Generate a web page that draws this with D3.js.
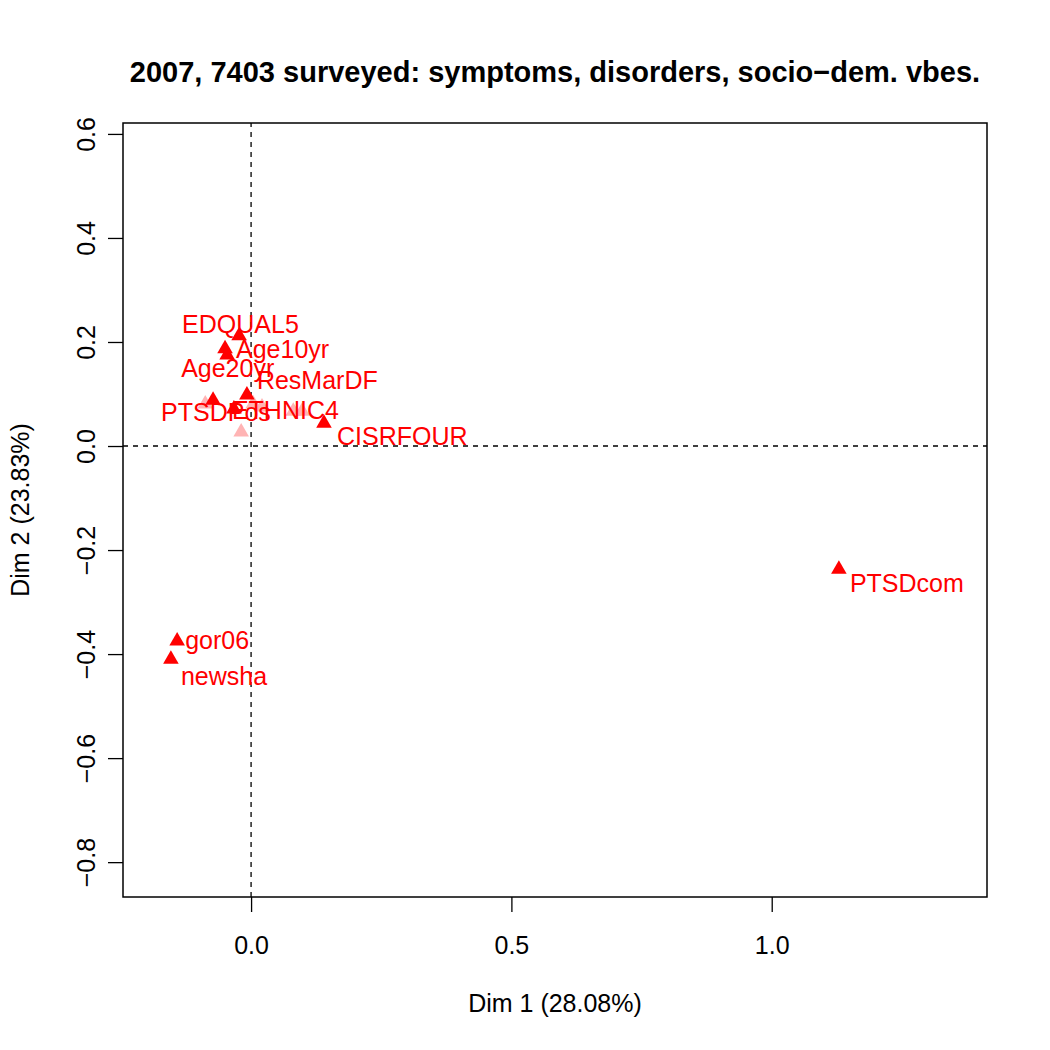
<!DOCTYPE html>
<html>
  <head>
    <meta charset="utf-8">
    <style>
      body { margin: 0; background: #ffffff; }
      text { font-family: "Liberation Sans", Arial, sans-serif; }
    </style>
  </head>
  <body>
    <svg id="chart"></svg>
  </body>
</html>

<script src="https://d3js.org/d3.v7.min.js"></script>

<script>
  const WIDTH = 1050
  const HEIGHT = 1050

  // active categories (red) and their coordinates on dim 1 / dim 2
  const labels = ['EDQUAL5', 'Age10yr', 'Age20yr', 'ResMarDF', 'PTSDPos',
                  'ETHNIC4', 'CISRFOUR', 'PTSDcom', 'gor06', 'newsha']
  const dim1 = [-0.023, -0.050, -0.046, -0.008, -0.073, -0.033, 0.140, 1.129, -0.142, -0.154]
  const dim2 = [0.212, 0.187, 0.175, 0.098, 0.088, 0.071, 0.044, -0.237, -0.375, -0.410]

  // label offsets in pixels (start of text, baseline)
  const labelDx = [-57, 11, -46, 10, -52, -2, 13, 11, 8, 10]
  const labelDy = [-3, 9, 22, -6, 21, 10, 22, 23, 8, 26]

  // pale (unlabelled) categories
  const paleDim1 = [-0.088, -0.019, 0.004, 0.021, 0.081, 0.098]
  const paleDim2 = [0.081, 0.027, 0.081, 0.075, 0.067, 0.067]

  const xTicks = [0.0, 0.5, 1.0]
  const yTicks = [-0.8, -0.6, -0.4, -0.2, 0.0, 0.2, 0.4, 0.6]

  const TITLE = '2007, 7403 surveyed: symptoms, disorders, socio\u2212dem. vbes.'
  const XLAB = 'Dim 1 (28.08%)'
  const YLAB = 'Dim 2 (23.83%)'

  const margin = {left: 123, right: 63, top: 123, bottom: 153}
  const FS = 25

  let svg = d3.select('#chart')
    .attr('width', WIDTH)
    .attr('height', HEIGHT)

  let x = d3.scaleLinear()
    .domain([-0.246, 1.4135])
    .range([margin.left, WIDTH - margin.right])
  let y = d3.scaleLinear()
    .domain([-0.867, 0.621])
    .range([HEIGHT - margin.bottom, margin.top])

  // R style tick labels: 0.0, -0.2 with a minus sign
  function fmt(v) {
    let s = Math.abs(v).toFixed(1)
    return v < -1e-9 ? '\u2212' + s : s
  }

  // axes
  let xAxis = d3.axisBottom(x).tickValues(xTicks).tickSize(15).tickPadding(24).tickFormat(fmt)
  let gx = svg.append('g')
    .attr('transform', 'translate(0,' + (HEIGHT - margin.bottom) + ')')
    .call(xAxis)
  gx.select('.domain').remove()
  gx.selectAll('line').attr('stroke', 'black').attr('stroke-width', 1.3)
  gx.selectAll('text').attr('font-size', FS).attr('fill', 'black')
    .attr('font-family', '"Liberation Sans", Arial, sans-serif')

  let yAxis = d3.axisLeft(y).tickValues(yTicks).tickSize(15).tickFormat(fmt)
  let gy = svg.append('g')
    .attr('transform', 'translate(' + margin.left + ',0)')
    .call(yAxis)
  gy.select('.domain').remove()
  gy.selectAll('line').attr('stroke', 'black').attr('stroke-width', 1.3)
  gy.selectAll('text')
    .attr('font-size', FS).attr('fill', 'black')
    .attr('font-family', '"Liberation Sans", Arial, sans-serif')
    .attr('x', null)
    .attr('text-anchor', 'middle')
    .attr('transform', 'translate(-37,0) rotate(-90)')
    .attr('y', 0)
    .attr('dy', '0.35em')

  // dashed reference lines
  svg.append('line')
    .attr('x1', x.range()[0]).attr('x2', x.range()[1])
    .attr('y1', y(0)).attr('y2', y(0))
    .attr('stroke', 'black').attr('stroke-width', 1.3)
    .attr('stroke-dasharray', '5,5')
  svg.append('line')
    .attr('x1', x(0)).attr('x2', x(0))
    .attr('y1', y.range()[0]).attr('y2', y.range()[1])
    .attr('stroke', 'black').attr('stroke-width', 1.3)
    .attr('stroke-dasharray', '5,5')

  // box
  svg.append('rect')
    .attr('x', x.range()[0]).attr('y', y.range()[1])
    .attr('width', x.range()[1] - x.range()[0])
    .attr('height', y.range()[0] - y.range()[1])
    .attr('fill', 'none').attr('stroke', 'black').attr('stroke-width', 1.5)

  let tri = d3.symbol().type(d3.symbolTriangle).size(105)

  // pale points
  svg.selectAll('.pale')
    .data(paleDim1.map((d, i) => [d, paleDim2[i]]))
    .enter()
    .append('path')
    .attr('class', 'pale')
    .attr('d', tri)
    .attr('transform', d => 'translate(' + x(d[0]) + ',' + y(d[1]) + ')')
    .attr('fill', '#ffb4b4')

  let pts = labels.map((l, i) => ({name: l, x: dim1[i], y: dim2[i], dx: labelDx[i], dy: labelDy[i]}))

  svg.selectAll('.pt')
    .data(pts)
    .enter()
    .append('path')
    .attr('class', 'pt')
    .attr('d', tri)
    .attr('transform', d => 'translate(' + x(d.x) + ',' + y(d.y) + ')')
    .attr('fill', 'red')

  svg.selectAll('.lab')
    .data(pts)
    .enter()
    .append('text')
    .attr('class', 'lab')
    .attr('x', d => x(d.x) + d.dx)
    .attr('y', d => y(d.y) + d.dy)
    .attr('font-size', FS)
    .attr('fill', 'red')
    .text(d => d.name)

  // titles
  svg.append('text')
    .attr('x', (x.range()[0] + x.range()[1]) / 2)
    .attr('y', 82)
    .attr('text-anchor', 'middle')
    .attr('font-size', 29)
    .attr('font-weight', 'bold')
    .text(TITLE)
  svg.append('text')
    .attr('x', (x.range()[0] + x.range()[1]) / 2)
    .attr('y', 1012)
    .attr('text-anchor', 'middle')
    .attr('font-size', FS)
    .text(XLAB)
  svg.append('text')
    .attr('transform', 'translate(29,' + ((y.range()[0] + y.range()[1]) / 2) + ') rotate(-90)')
    .attr('text-anchor', 'middle')
    .attr('font-size', FS)
    .text(YLAB)
</script>
